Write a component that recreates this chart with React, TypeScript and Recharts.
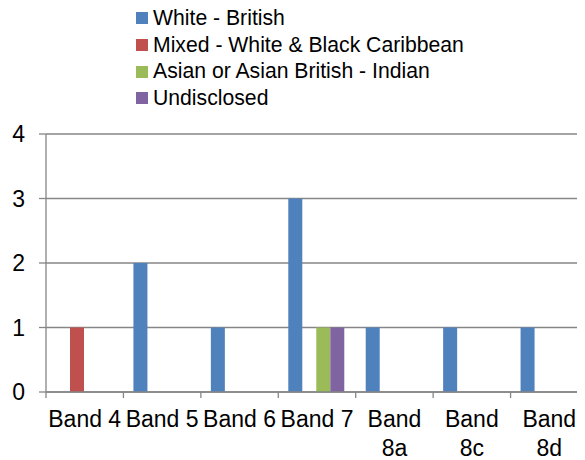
import { Bar, BarChart, CartesianGrid, Legend, XAxis, YAxis } from "recharts"

const categories = ["Band 4", "Band 5", "Band 6", "Band 7", "Band 8a", "Band 8c", "Band 8d"]
const whiteBritish = [0, 2, 1, 3, 1, 1, 1]
const mixedWhiteBlackCaribbean = [1, 0, 0, 0, 0, 0, 0]
const asianIndian = [0, 0, 0, 1, 0, 0, 0]
const undisclosed = [0, 0, 0, 1, 0, 0, 0]
const yTicks = [0, 1, 2, 3, 4]

const series = [
  { key: "white", name: "White - British", color: "#4F81BD" },
  { key: "mixed", name: "Mixed - White & Black Caribbean", color: "#C0504D" },
  { key: "asian", name: "Asian or Asian British - Indian", color: "#9BBB59" },
  { key: "undisclosed", name: "Undisclosed", color: "#8064A2" },
]

const data = categories.map((name, i) => ({
  name,
  white: whiteBritish[i],
  mixed: mixedWhiteBlackCaribbean[i],
  asian: asianIndian[i],
  undisclosed: undisclosed[i],
}))

const FONT = "'Liberation Sans', Arial, sans-serif"
const GREY = "#868686"
const TICK_FONT = 23

let ctx: CanvasRenderingContext2D | null = null
function measure(s: string) {
  if (!ctx) ctx = document.createElement("canvas").getContext("2d")
  if (!ctx) return s.length * TICK_FONT * 0.55
  ctx.font = `${TICK_FONT}px ${FONT}`
  return ctx.measureText(s).width
}

// greedy word wrap, like excel does for category labels
function wrap(label: string, maxWidth: number) {
  const words = label.split(" ")
  const lines: string[] = []
  let cur = ""
  for (const w of words) {
    const next = cur ? cur + " " + w : w
    if (cur && measure(next) > maxWidth) {
      lines.push(cur)
      cur = w
    } else {
      cur = next
    }
  }
  if (cur) lines.push(cur)
  return lines
}

function BandTick(props: any) {
  const { x, y, payload, width, visibleTicksCount } = props
  const step = (width || 542) / (visibleTicksCount || categories.length)
  const left = x - step / 2
  const lines = wrap(String(payload.value), step)
  return (
    <g>
      <line x1={left} x2={left} y1={y} y2={y + 6} stroke={GREY} strokeWidth={1.3} />
      <text x={x} y={y + 35} textAnchor="middle" fontSize={TICK_FONT} fill="#000" style={{ fontFamily: FONT }}>
        {lines.map((l, i) => (
          <tspan key={i} x={x} dy={i === 0 ? 0 : 28.5}>
            {l}
          </tspan>
        ))}
      </text>
    </g>
  )
}

function LegendBox() {
  return (
    <div style={{ height: 134, paddingLeft: 136, paddingTop: 5, boxSizing: "border-box", fontFamily: FONT, fontSize: 21.2, color: "#000" }}>
      {series.map((s) => (
        <div key={s.key} style={{ display: "flex", alignItems: "center", height: 26.7, lineHeight: "26.7px" }}>
          <span style={{ display: "inline-block", width: 12, height: 12, background: s.color, marginRight: 5 }} />
          <span>{s.name}</span>
        </div>
      ))}
    </div>
  )
}

export default function App() {
  return (
    <div style={{ marginLeft: -8, marginTop: -8, width: 585, height: 460, overflow: "hidden", background: "#fff" }}>
      <BarChart
        width={588}
        height={460}
        data={data}
        margin={{ top: 0, right: 0, bottom: 0, left: 0 }}
        barCategoryGap={10}
        barGap={0}
        style={{ fontFamily: FONT }}
      >
        <CartesianGrid vertical={false} stroke={GREY} strokeWidth={1.3} />
        <XAxis
          dataKey="name"
          height={68}
          axisLine={{ stroke: GREY, strokeWidth: 1.3 }}
          tickLine={false}
          tickSize={0}
          tickMargin={0}
          interval={0}
          tick={<BandTick />}
        />
        <YAxis
          width={46}
          domain={[0, 4]}
          ticks={yTicks}
          allowDecimals={false}
          axisLine={{ stroke: GREY, strokeWidth: 1.3 }}
          tickLine={{ stroke: GREY, strokeWidth: 1.3 }}
          tickSize={7}
          tickMargin={14}
          tick={{ fontSize: TICK_FONT, fill: "#000", fontFamily: FONT }}
        />
        <Legend verticalAlign="top" align="left" content={<LegendBox />} wrapperStyle={{ left: 0, top: 0 }} />
        {series.map((s) => (
          <Bar key={s.key} dataKey={s.key} name={s.name} fill={s.color} isAnimationActive={false} />
        ))}
      </BarChart>
    </div>
  )
}
